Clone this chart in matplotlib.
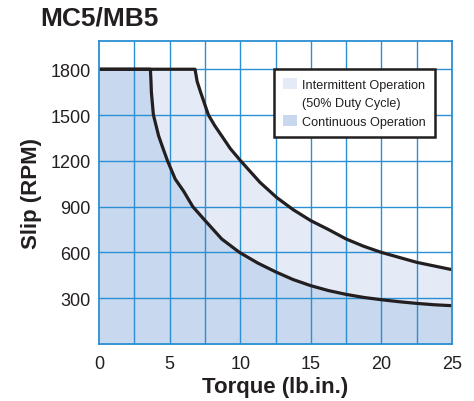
import numpy as np
import matplotlib
matplotlib.use("Agg")
import matplotlib.pyplot as plt
from matplotlib.patches import Patch

plt.rcParams['font.family'] = ['Liberation Sans', 'DejaVu Sans']

# 连续运行曲线 (内侧)
cont_torque = [0, 3.64, 3.68, 3.71, 3.85, 4.22, 4.5, 4.85, 5.4, 6.0, 6.64, 7.5, 8.69,
               9.95, 11.25, 12.5, 13.75, 15, 16.25, 17.5, 18.75, 20, 21.25, 22.5, 23.75, 25]
cont_slip = [1800, 1800, 1720, 1648, 1502, 1364, 1290, 1200, 1080, 1000, 900, 810, 688,
             600, 530, 473, 422, 382, 350, 325, 305, 290, 277, 266, 257, 251]

# 间歇运行曲线 (外侧)
int_torque = [0, 6.8, 6.95, 7.2, 7.75, 8.2, 8.76, 9.3, 10.03, 11.4, 12.58, 13.75, 15,
              16.25, 17.5, 18.75, 20, 22.5, 25]
int_slip = [1800, 1800, 1720, 1648, 1500, 1430, 1354, 1280, 1200, 1059, 960, 880, 808,
            750, 688, 640, 600, 535, 487]

x_ticks = [0, 5, 10, 15, 20, 25]
y_ticks = [300, 600, 900, 1200, 1500, 1800]

c_cont = '#c8d8ee'
c_int = '#e4eaf6'
c_grid = '#2b8fd3'
c_ink = '#231f20'

fig = plt.figure(figsize=(4.74, 4.02), dpi=100)
ax = fig.add_axes([0.2089, 0.1418, 0.7447, 0.7537])

ax.fill_between(int_torque, 0, int_slip, color=c_int, lw=0, zorder=1)
ax.fill_between(cont_torque, 0, cont_slip, color=c_cont, lw=0, zorder=2)

for v in np.arange(2.5, 25, 2.5):
    ax.axvline(v, color=c_grid, lw=1.0, zorder=3)
for v in y_ticks:
    ax.axhline(v, color=c_grid, lw=1.0, zorder=3)

ax.plot(int_torque, int_slip, color=c_ink, lw=2.3, zorder=4,
        solid_capstyle='butt', solid_joinstyle='round')
ax.plot(cont_torque, cont_slip, color=c_ink, lw=2.3, zorder=4,
        solid_capstyle='butt', solid_joinstyle='round')

ax.set_xlim(0, 25)
ax.set_ylim(0, 1985)
ax.set_xticks(x_ticks)
ax.set_yticks(y_ticks)
ax.tick_params(length=0, labelsize=13, colors=c_ink)
ax.tick_params(axis='x', pad=8)
ax.tick_params(axis='y', pad=6)
for s in ax.spines.values():
    s.set_color(c_grid)
    s.set_linewidth(1.3)
    s.set_zorder(5)

ax.set_xlabel('Torque (lb.in.)', fontsize=16, fontweight='bold', color=c_ink, labelpad=3)
ax.set_ylabel('Slip (RPM)', fontsize=16, fontweight='bold', color=c_ink, labelpad=6)
fig.text(0.084, 0.954, 'MC5/MB5', fontsize=19, fontweight='bold', color=c_ink,
         ha='left', va='center')

handles = [Patch(facecolor=c_int, edgecolor='none', label='Intermittent Operation'),
           Patch(facecolor='none', edgecolor='none', label='(50% Duty Cycle)'),
           Patch(facecolor=c_cont, edgecolor='none', label='Continuous Operation')]
leg = ax.legend(handles=handles, loc='upper right', bbox_to_anchor=(0.952, 0.908),
                fontsize=9.1, frameon=True, fancybox=False, handlelength=1.1,
                handleheight=1.0, handletextpad=0.45, borderpad=0.7, labelspacing=0.45,
                borderaxespad=0, framealpha=1)
leg.get_frame().set_edgecolor(c_ink)
leg.get_frame().set_linewidth(1.8)
leg.set_zorder(6)
for t in leg.get_texts():
    t.set_color(c_ink)

fig.savefig('out.png', dpi=100)
